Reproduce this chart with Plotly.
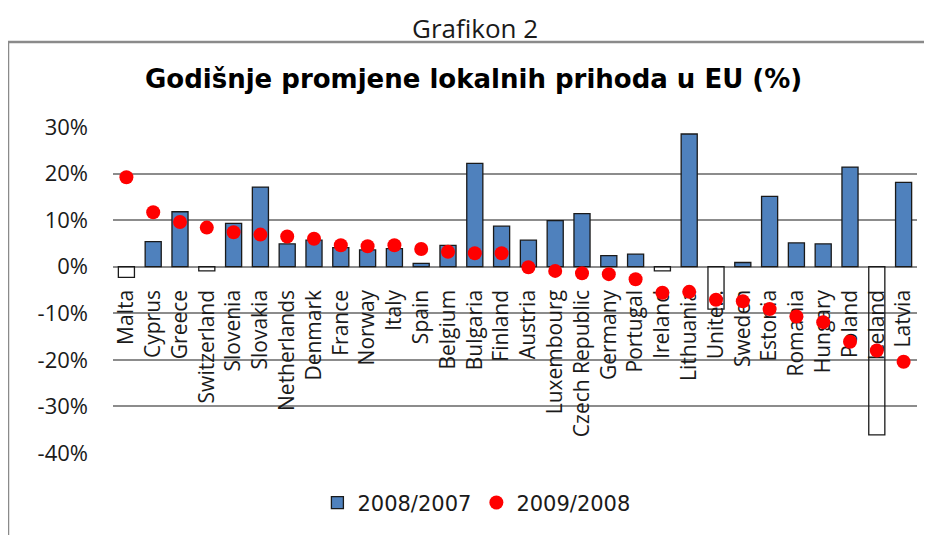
import plotly.graph_objects as go

# data
countries = ['Malta', 'Cyprus', 'Greece', 'Switzerland', 'Slovenia', 'Slovakia', 'Netherlands',
             'Denmark', 'France', 'Norway', 'Italy', 'Spain', 'Belgium', 'Bulgaria', 'Finland',
             'Austria', 'Luxembourg', 'Czech Republic', 'Germany', 'Portugal', 'Ireland',
             'Lithuania', 'Unite...', 'Sweden', 'Estonia', 'Romania', 'Hungary', 'Poland',
             'Iceland', 'Latvia']
change_2008 = [-2.3, 5.4, 11.8, -0.9, 9.3, 17.1, 4.9, 5.7, 4.1, 3.6, 3.9, 0.7, 4.6, 22.2, 8.7,
               5.7, 9.9, 11.4, 2.4, 2.7, -0.9, 28.5, -9.1, 0.9, 15.1, 5.1, 4.9, 21.4, -36.1, 18.1]
change_2009 = [19.2, 11.7, 9.6, 8.4, 7.4, 6.9, 6.5, 6.0, 4.6, 4.4, 4.6, 3.8, 3.2, 2.9, 2.9,
               -0.1, -0.9, -1.4, -1.6, -2.7, -5.6, -5.4, -7.1, -7.4, -9.1, -10.7, -11.9, -16.1,
               -18.0, -20.4]
y_tick_vals = [30, 20, 10, 0, -10, -20, -30, -40]
y_tick_text = ['30%', '20%', '10%', '0%', '-10%', '-20%', '-30%', '-40%']

Y_MIN, Y_MAX = -40, 30

# Excel "invert if negative": negative bars are hollow, legend keeps the blue one
pos_2008 = [v if v >= 0 else None for v in change_2008]
neg_2008 = [v if v < 0 else None for v in change_2008]

fig = go.Figure()
fig.add_trace(go.Bar(x=countries, y=pos_2008, name='2008/2007', width=0.6,
                     marker=dict(color='#4f81bd', line=dict(color='#1a1a1a', width=1.3))))
fig.add_trace(go.Bar(x=countries, y=neg_2008, name='2008/2007', width=0.6, showlegend=False,
                     marker=dict(color='rgba(255,255,255,0)', line=dict(color='#1a1a1a', width=1.3))))
fig.add_trace(go.Scatter(x=countries, y=change_2009, name='2009/2008', mode='markers',
                         marker=dict(color='#ff0000', size=14)))

# the page body has an 8px margin, so the figure is 8px smaller than the window
fig.update_layout(
    width=924, height=527,
    margin=dict(l=105, r=15, t=119, b=82),
    paper_bgcolor='white', plot_bgcolor='white',
    barmode='overlay',
    showlegend=True,
    legend=dict(orientation='h', x=0.452, xanchor='center', y=-0.153, yanchor='middle',
                font=dict(family='DejaVu Sans', size=21, color='#1a1a1a'),
                itemwidth=30, traceorder='normal'),
    xaxis=dict(anchor='free', position=(0 - Y_MIN) / (Y_MAX - Y_MIN), showgrid=False,
               range=[-0.5, len(countries) - 0.5],
               tickmode='array', tickvals=countries, ticktext=countries,
               showline=False, zeroline=False, ticks='', tickangle=-90,
               ticklabelstandoff=18, layer='below traces',
               tickfont=dict(family='Open Sans', size=21, color='#1a1a1a')),
    yaxis=dict(range=[Y_MIN, Y_MAX], domain=[0, 1], tickvals=y_tick_vals, ticktext=y_tick_text,
               showgrid=True, gridcolor='#8c8c8c', gridwidth=1.5, zeroline=False,
               showline=False, ticks='', ticklabelstandoff=24,
               tickfont=dict(family='Open Sans', size=22, color='#1a1a1a')),
    annotations=[
        dict(text='Grafikon 2', xref='paper', yref='paper', x=0.45, y=1.3037,
             xanchor='center', yanchor='middle', showarrow=False,
             font=dict(family='Open Sans', size=26, color='#1a1a1a')),
        dict(text='<b>Godišnje promjene lokalnih prihoda u EU (%)</b>', xref='paper', yref='paper',
             x=0.449, y=1.148, xanchor='center', yanchor='middle', showarrow=False,
             font=dict(family='DejaVu Sans', size=26, color='black')),
    ],
    shapes=[dict(type='rect', xref='paper', yref='paper', x0=-0.1306, x1=1.1, y0=-0.4, y1=1.2607,
                 line=dict(color='#8a8a8a', width=2.5), fillcolor='rgba(0,0,0,0)')],
)

fig.write_html('out.html')
